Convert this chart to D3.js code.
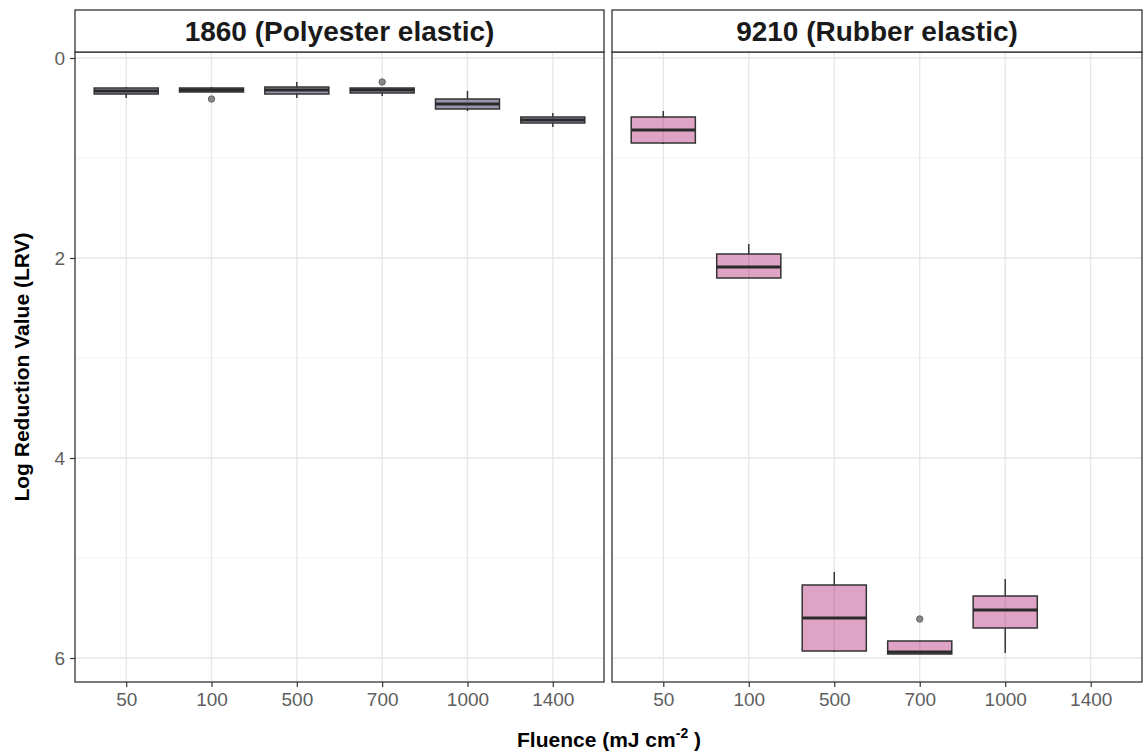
<!DOCTYPE html>
<html>
<head>
<meta charset="utf-8">
<script src="https://cdn.jsdelivr.net/npm/d3@7"></script>
<style>
  body { margin: 0; background: #fff; }
  text { font-family: "Liberation Sans", Arial, sans-serif; }
</style>
</head>
<body>
<div id="chart"></div>
<script>
// categories and panels
const fluence = ["50", "100", "500", "700", "1000", "1400"];
const panels = ["1860 (Polyester elastic)", "9210 (Rubber elastic)"];
const yTicks = [0, 2, 4, 6];

// box stats per fluence: [min, q1, median, q3, max]
const polyesterStats = [
    [0.29, 0.30, 0.33, 0.36, 0.40],
    [0.29, 0.30, 0.32, 0.34, 0.34],
    [0.24, 0.29, 0.32, 0.36, 0.40],
    [0.30, 0.30, 0.32, 0.35, 0.38],
    [0.33, 0.41, 0.46, 0.51, 0.53],
    [0.55, 0.59, 0.62, 0.65, 0.69]
];
const polyesterOutliers = [null, [0.41], null, [0.24], null, null];

const rubberStats = [
    [0.53, 0.59, 0.72, 0.85, 0.86],
    [1.86, 1.96, 2.09, 2.20, 2.20],
    [5.14, 5.27, 5.60, 5.93, 5.94],
    [5.83, 5.83, 5.94, 5.96, 5.96],
    [5.21, 5.38, 5.52, 5.70, 5.95],
    null
];
const rubberOutliers = [null, null, null, [5.61], null, null];

const fills = ["#8e8ca6", "#dc9cc0"];

const W = 1147, H = 752;
const svg = d3.select("#chart").append("svg")
    .attr("width", W).attr("height", H);

const panelTop = 52, panelBottom = 682, stripTop = 10;
const panelX = [[75, 604], [612, 1142]];

// Y channel (reversed: 0 at top)
const y = d3.scaleLinear()
    .domain([-0.06, 6.24])
    .range([panelTop, panelBottom]);

const data = [
    { stats: polyesterStats, outliers: polyesterOutliers },
    { stats: rubberStats, outliers: rubberOutliers }
];

panels.forEach((title, p) => {
    const [x0, x1] = panelX[p];
    // discrete x with 0.6 expansion each side
    const step = (x1 - x0) / (fluence.length - 1 + 1.2);
    const x = d3.scalePoint()
        .domain(fluence)
        .range([x0 + 0.6 * step, x1 - 0.6 * step]);
    const boxW = step * 0.75;

    const g = svg.append("g");

    // panel background
    g.append("rect")
        .attr("x", x0).attr("y", panelTop)
        .attr("width", x1 - x0).attr("height", panelBottom - panelTop)
        .attr("fill", "#fff");

    // minor grid
    [1, 3, 5].forEach(v => {
        g.append("line")
            .attr("x1", x0).attr("x2", x1)
            .attr("y1", y(v)).attr("y2", y(v))
            .attr("stroke", "#f2f2f2").attr("stroke-width", 1);
    });
    // major grid
    yTicks.forEach(v => {
        g.append("line")
            .attr("x1", x0).attr("x2", x1)
            .attr("y1", y(v)).attr("y2", y(v))
            .attr("stroke", "#e6e6e6").attr("stroke-width", 1.3);
    });
    fluence.forEach(f => {
        g.append("line")
            .attr("x1", x(f)).attr("x2", x(f))
            .attr("y1", panelTop).attr("y2", panelBottom)
            .attr("stroke", "#e6e6e6").attr("stroke-width", 1.3);
    });

    // boxes
    const d = data[p];
    fluence.forEach((f, i) => {
        const s = d.stats[i];
        if (!s) return;
        const cx = x(f);
        g.append("line")
            .attr("x1", cx).attr("x2", cx)
            .attr("y1", y(s[0])).attr("y2", y(s[4]))
            .attr("stroke", "#333").attr("stroke-width", 1.5);
        g.append("rect")
            .attr("x", cx - boxW / 2).attr("width", boxW)
            .attr("y", y(s[1])).attr("height", Math.max(1, y(s[3]) - y(s[1])))
            .attr("fill", fills[p]).attr("fill-opacity", 0.92)
            .attr("stroke", "#333").attr("stroke-width", 1.5);
        g.append("line")
            .attr("x1", cx - boxW / 2).attr("x2", cx + boxW / 2)
            .attr("y1", y(s[2])).attr("y2", y(s[2]))
            .attr("stroke", "#2a2a2a").attr("stroke-width", 3);
        (d.outliers[i] || []).forEach(o => {
            g.append("circle")
                .attr("cx", cx).attr("cy", y(o)).attr("r", 3.2)
                .attr("fill", "#888").attr("stroke", "#666").attr("stroke-width", 1);
        });
    });

    // panel border
    g.append("rect")
        .attr("x", x0).attr("y", panelTop)
        .attr("width", x1 - x0).attr("height", panelBottom - panelTop)
        .attr("fill", "none").attr("stroke", "#333").attr("stroke-width", 1.3);

    // strip
    g.append("rect")
        .attr("x", x0).attr("y", stripTop)
        .attr("width", x1 - x0).attr("height", panelTop - stripTop)
        .attr("fill", "#fff").attr("stroke", "#333").attr("stroke-width", 1.3);
    g.append("text")
        .attr("x", (x0 + x1) / 2).attr("y", (stripTop + panelTop) / 2 + 10)
        .attr("text-anchor", "middle")
        .attr("font-size", 28).attr("font-weight", "bold").attr("fill", "#1a1a1a")
        .text(title);

    // x axis
    const xa = g.append("g")
        .attr("transform", `translate(0,${panelBottom})`)
        .call(d3.axisBottom(x).tickSize(5).tickPadding(6));
    xa.select(".domain").remove();
    xa.selectAll("line").attr("stroke", "#333").attr("stroke-width", 1.2);
    xa.selectAll("text").attr("font-size", 19).attr("fill", "#5e5e5e")
        .style("font-family", "'Liberation Sans', Arial, sans-serif");

    // y axis on left panel only
    if (p === 0) {
        const ya = g.append("g")
            .attr("transform", `translate(${x0},0)`)
            .call(d3.axisLeft(y).tickValues(yTicks).tickFormat(d3.format("d")).tickSize(5).tickPadding(5));
        ya.select(".domain").remove();
        ya.selectAll("line").attr("stroke", "#333").attr("stroke-width", 1.2);
        ya.selectAll("text").attr("font-size", 19).attr("fill", "#5e5e5e")
            .style("font-family", "'Liberation Sans', Arial, sans-serif");
    }
});

// axis titles
svg.append("text")
    .attr("transform", `translate(29,${(panelTop + panelBottom) / 2}) rotate(-90)`)
    .attr("text-anchor", "middle")
    .attr("font-size", 21).attr("font-weight", "bold").attr("fill", "#000")
    .text("Log Reduction Value (LRV)");

const xt = svg.append("text")
    .attr("x", 609).attr("y", 747)
    .attr("text-anchor", "middle")
    .attr("font-size", 21).attr("font-weight", "bold").attr("fill", "#000");
xt.append("tspan").text("Fluence (mJ cm");
xt.append("tspan").attr("dy", -9).attr("font-size", 14).text("-2");
xt.append("tspan").attr("dy", 9).text(" )");
</script>
</body>
</html>
